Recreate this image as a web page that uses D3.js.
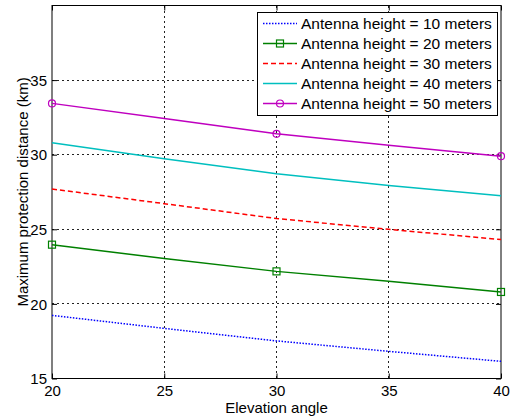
<!DOCTYPE html>
<html><head><meta charset="utf-8">
<script src="https://cdn.jsdelivr.net/npm/d3@7"></script>
<style>body{margin:0;background:#fff}svg{display:block}text{font-family:Arial,"Liberation Sans",sans-serif;fill:#000}</style>
</head><body>
<script>
const angles = [20, 25, 30, 35, 40];
const h10 = [19.23, 18.36, 17.52, 16.82, 16.15];
const h20 = [23.97, 23.05, 22.18, 21.51, 20.80];
const h30 = [27.70, 26.72, 25.72, 25.00, 24.31];
const h40 = [30.80, 29.73, 28.72, 27.94, 27.25];
const h50 = [33.44, 32.43, 31.40, 30.64, 29.90];
const markerAngles = [20, 30, 40];
const seriesNames = ["Antenna height = 10 meters","Antenna height = 20 meters","Antenna height = 30 meters","Antenna height = 40 meters","Antenna height = 50 meters"];
const xTicks = [20, 25, 30, 35, 40];
const yTicks = [15, 20, 25, 30, 35];

const series = [
  {name: seriesNames[0], vals: h10, color: "#0000ff", dash: "1.5,1.5", marker: null},
  {name: seriesNames[1], vals: h20, color: "#008000", dash: null, marker: "square"},
  {name: seriesNames[2], vals: h30, color: "#ff0000", dash: "5,3", marker: null},
  {name: seriesNames[3], vals: h40, color: "#00bfbf", dash: null, marker: null},
  {name: seriesNames[4], vals: h50, color: "#bf00bf", dash: null, marker: "circle"}
];

const FS = "15px";
const W = 511, H = 418;
const L = 52, R = 501, T = 5.5, B = 378.5;
const svg = d3.select("body").append("svg").attr("width", W).attr("height", H);
const x = d3.scaleLinear().domain([20, 40]).range([L, R]);
const y = d3.scaleLinear().domain([15, 40]).range([B, T]);

// grid
const g = svg.append("g");
g.selectAll(".gx").data(xTicks.slice(1, -1)).enter().append("line")
  .attr("x1", d => x(d)).attr("x2", d => x(d)).attr("y1", T).attr("y2", B)
  .attr("stroke", "#222").attr("stroke-width", 1).attr("stroke-dasharray", "2,3")
  .attr("shape-rendering", "crispEdges");
g.selectAll(".gy").data(yTicks.slice(1)).enter().append("line")
  .attr("y1", d => y(d)).attr("y2", d => y(d)).attr("x1", L).attr("x2", R)
  .attr("stroke", "#222").attr("stroke-width", 1).attr("stroke-dasharray", "2,3")
  .attr("shape-rendering", "crispEdges");

// axes with inward ticks
const xAxis = svg.append("g").attr("transform", `translate(0,${B})`)
  .call(d3.axisBottom(x).tickValues(xTicks).tickSizeInner(-5).tickSizeOuter(0).tickPadding(7));
const yAxis = svg.append("g").attr("transform", `translate(${L},0)`)
  .call(d3.axisLeft(y).tickValues(yTicks).tickSizeInner(-5).tickSizeOuter(0).tickPadding(5));
svg.append("g").attr("transform", `translate(0,${T})`)
  .call(d3.axisTop(x).tickValues(xTicks).tickSizeInner(-5).tickSizeOuter(0).tickFormat(""));
svg.append("g").attr("transform", `translate(${R},0)`)
  .call(d3.axisRight(y).tickValues(yTicks).tickSizeInner(-5).tickSizeOuter(0).tickFormat(""));
svg.selectAll(".domain").remove();
svg.selectAll(".tick line").attr("stroke", "#000");
svg.selectAll(".tick text").style("font-size", FS).style("font-family", "Arial, 'Liberation Sans', sans-serif");
yAxis.selectAll(".tick text").attr("dy", "0.35em");

// frame
svg.append("rect").attr("x", L).attr("y", T).attr("width", R - L).attr("height", B - T)
  .attr("fill", "none").attr("stroke", "#000").attr("stroke-width", 1);

// lines
const line = d3.line().x((d, i) => x(angles[i])).y(d => y(d));
series.forEach(s => {
  svg.append("path").datum(s.vals).attr("d", line).attr("fill", "none")
    .attr("stroke", s.color).attr("stroke-width", 1.5)
    .attr("stroke-dasharray", s.dash);
  if (s.marker) {
    const pts = markerAngles.map(a => [a, s.vals[angles.indexOf(a)]]);
    pts.forEach(p => drawMarker(svg, s.marker, x(p[0]), y(p[1]), s.color));
  }
});

function drawMarker(parent, type, cx, cy, color) {
  if (type === "square") {
    parent.append("rect").attr("x", cx - 3.5).attr("y", cy - 3.5).attr("width", 7).attr("height", 7)
      .attr("fill", "none").attr("stroke", color).attr("stroke-width", 1.2);
  } else {
    parent.append("circle").attr("cx", cx).attr("cy", cy).attr("r", 3.5)
      .attr("fill", "none").attr("stroke", color).attr("stroke-width", 1.2);
  }
}

// legend
const lg = svg.append("g");
lg.append("rect").attr("x", 257.5).attr("y", 12.5).attr("width", 240).attr("height", 103)
  .attr("fill", "#fff").attr("stroke", "#000").attr("stroke-width", 1);
series.forEach((s, i) => {
  const ly = 23.5 + i * 20;
  lg.append("line").attr("x1", 263).attr("x2", 297).attr("y1", ly).attr("y2", ly)
    .attr("stroke", s.color).attr("stroke-width", 1.5).attr("stroke-dasharray", s.dash);
  if (s.marker) drawMarker(lg, s.marker, 280, ly, s.color);
  lg.append("text").attr("x", 301).attr("y", ly).attr("dy", "0.36em")
    .style("font-size", "15.5px").text(s.name);
});

// axis labels
svg.append("text").attr("x", (L + R) / 2).attr("y", 413).attr("text-anchor", "middle")
  .style("font-size", FS).text("Elevation angle");
svg.append("text").attr("transform", `translate(28,${(T + B) / 2}) rotate(-90)`)
  .attr("text-anchor", "middle").style("font-size", FS).text("Maximum protection distance (km)");
</script>
</body></html>
